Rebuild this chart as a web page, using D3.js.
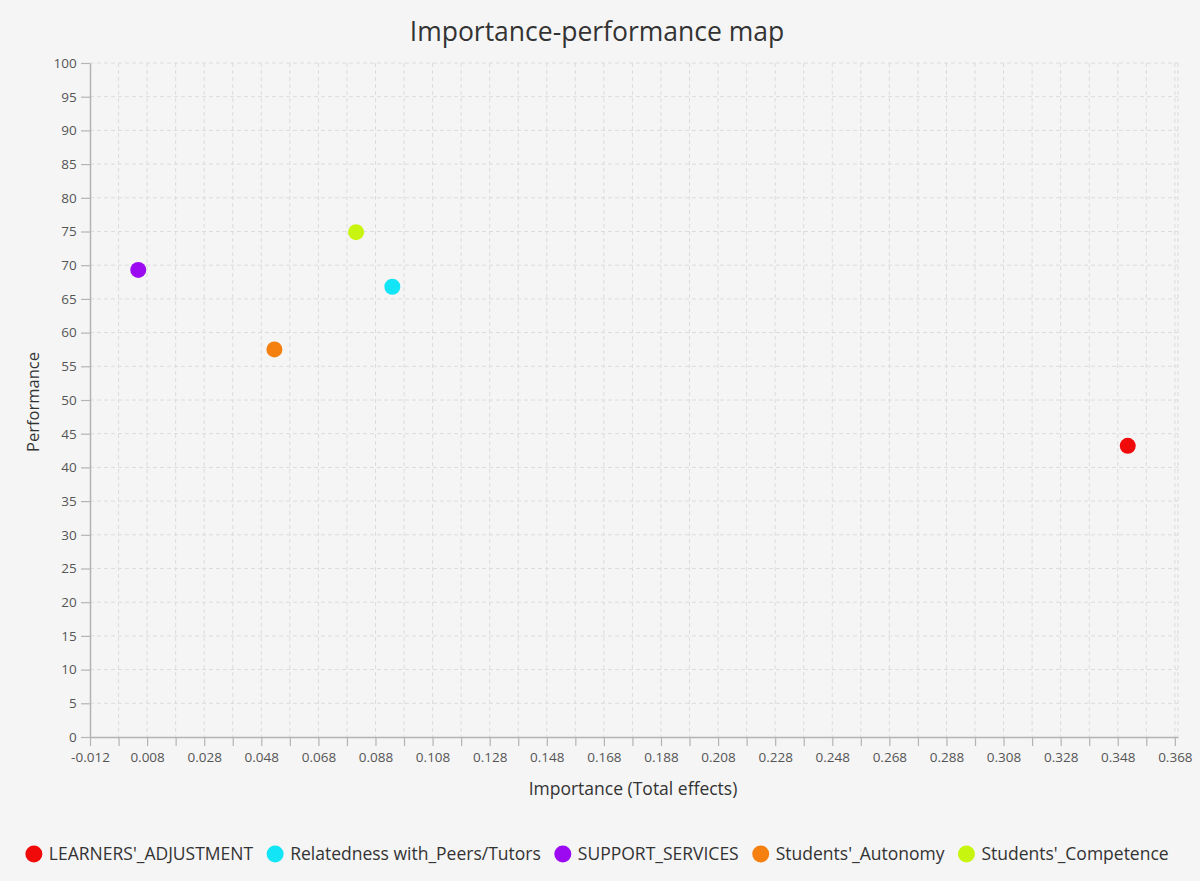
<!DOCTYPE html>
<html>
<head>
<meta charset="utf-8">
<script src="https://cdn.jsdelivr.net/npm/d3@7"></script>
<style>
  body { margin: 0; background: #f5f5f5; }
  svg { display: block; font-family: "Open Sans", "Noto Sans", sans-serif; }
</style>
</head>
<body>
<svg id="chart" width="1200" height="881"></svg>
<script>
// 数据
const constructs = [
  "LEARNERS'_ADJUSTMENT",
  "Relatedness with_Peers/Tutors",
  "SUPPORT_SERVICES",
  "Students'_Autonomy",
  "Students'_Competence",
];
const importance = [0.3515, 0.0939, 0.0049, 0.0526, 0.0812];
const performance = [43.2, 66.8, 69.3, 57.5, 74.9];
const colors = ["#f00a0a", "#12e5f5", "#9b0af0", "#f5800f", "#c8f50f"];

const width = 1200, height = 881;
const margin = { top: 63, right: 22, bottom: 144, left: 90 };
const innerW = width - margin.left - margin.right;
const innerH = height - margin.top - margin.bottom;

const svg = d3.select("#chart");

// 大标题
svg.append("text")
  .attr("x", 597)
  .attr("y", 41)
  .attr("text-anchor", "middle")
  .attr("font-size", 26.5)
  .attr("fill", "#333")
  .text("Importance-performance map");

const g = svg.append("g").attr("transform", `translate(${margin.left},${margin.top})`);

// 比例尺
const x = d3.scaleLinear().domain([-0.012, 0.3691]).range([0, innerW]);
const y = d3.scaleLinear().domain([0, 100]).range([innerH, 0]);

const xTicks = d3.range(0, 39).map((i) => +(-0.012 + i * 0.01).toFixed(3));
const yTicks = d3.range(0, 21).map((i) => i * 5);

// 网格
g.append("g")
  .selectAll("line")
  .data(xTicks.slice(1))
  .join("line")
  .attr("x1", (d) => x(d)).attr("x2", (d) => x(d))
  .attr("y1", 0).attr("y2", innerH)
  .attr("stroke", "#dcdcdc")
  .attr("stroke-dasharray", "4,3");

g.append("g")
  .selectAll("line")
  .data(yTicks.slice(1))
  .join("line")
  .attr("x1", 0).attr("x2", innerW)
  .attr("y1", (d) => y(d)).attr("y2", (d) => y(d))
  .attr("stroke", "#dcdcdc")
  .attr("stroke-dasharray", "4,3");

// 右边框
g.append("line")
  .attr("x1", innerW).attr("x2", innerW)
  .attr("y1", 0).attr("y2", innerH)
  .attr("stroke", "#dcdcdc")
  .attr("stroke-dasharray", "4,3");

// 坐标轴
const xAxis = d3.axisBottom(x)
  .tickValues(xTicks)
  .tickSize(9)
  .tickSizeOuter(0)
  .tickFormat((d, i) => (i % 2 === 0 ? d.toFixed(3) : ""));
const yAxis = d3.axisLeft(y)
  .tickValues(yTicks)
  .tickSize(9)
  .tickSizeOuter(0)
  .tickFormat((d) => d);

const xAxisG = g.append("g").attr("transform", `translate(0,${innerH})`).call(xAxis);
const yAxisG = g.append("g").call(yAxis);

[xAxisG, yAxisG].forEach((a) => {
  a.select(".domain").attr("stroke", "#b4b4b4").attr("stroke-width", 1.5);
  a.selectAll(".tick line").attr("stroke", "#b4b4b4").attr("stroke-width", 1.2);
  a.selectAll(".tick text")
    .attr("fill", "#555")
    .attr("font-size", 13.5)
    .attr("font-family", "'Open Sans', 'Noto Sans', sans-serif");
});
xAxisG.selectAll(".tick text").attr("dy", "0.95em");
yAxisG.selectAll(".tick text").attr("dx", "-0.1em");

// 轴标签
svg.append("text")
  .attr("x", 633)
  .attr("y", 795)
  .attr("text-anchor", "middle")
  .attr("font-size", 17.5)
  .attr("fill", "#333")
  .text("Importance (Total effects)");

svg.append("text")
  .attr("transform", `translate(39,${margin.top + innerH / 2 + 2}) rotate(-90)`)
  .attr("text-anchor", "middle")
  .attr("font-size", 16.5)
  .attr("fill", "#333")
  .text("Performance");

// 数据点
g.append("g")
  .selectAll("circle")
  .data(constructs)
  .join("circle")
  .attr("cx", (d, i) => x(importance[i]))
  .attr("cy", (d, i) => y(performance[i]))
  .attr("r", 8)
  .attr("fill", (d, i) => colors[i]);

// 图例（顺序排列，居中）
const legend = svg.append("g").attr("transform", "translate(0,854)");
const items = legend.selectAll("g")
  .data(constructs)
  .join("g");
items.append("circle").attr("r", 8.5).attr("fill", (d, i) => colors[i]);
items.append("text")
  .attr("x", 15)
  .attr("dy", "0.35em")
  .attr("font-size", 17.5)
  .attr("fill", "#333")
  .text((d) => d);

let cursor = 0;
const offsets = [];
items.each(function () {
  const w = d3.select(this).select("text").node().getComputedTextLength();
  offsets.push(cursor);
  cursor += 15 + w + 22;
});
const total = cursor - 22 + 8.5;
const start = 597 - total / 2 + 8.5;
items.attr("transform", (d, i) => `translate(${start + offsets[i]},0)`);
</script>
</body>
</html>
